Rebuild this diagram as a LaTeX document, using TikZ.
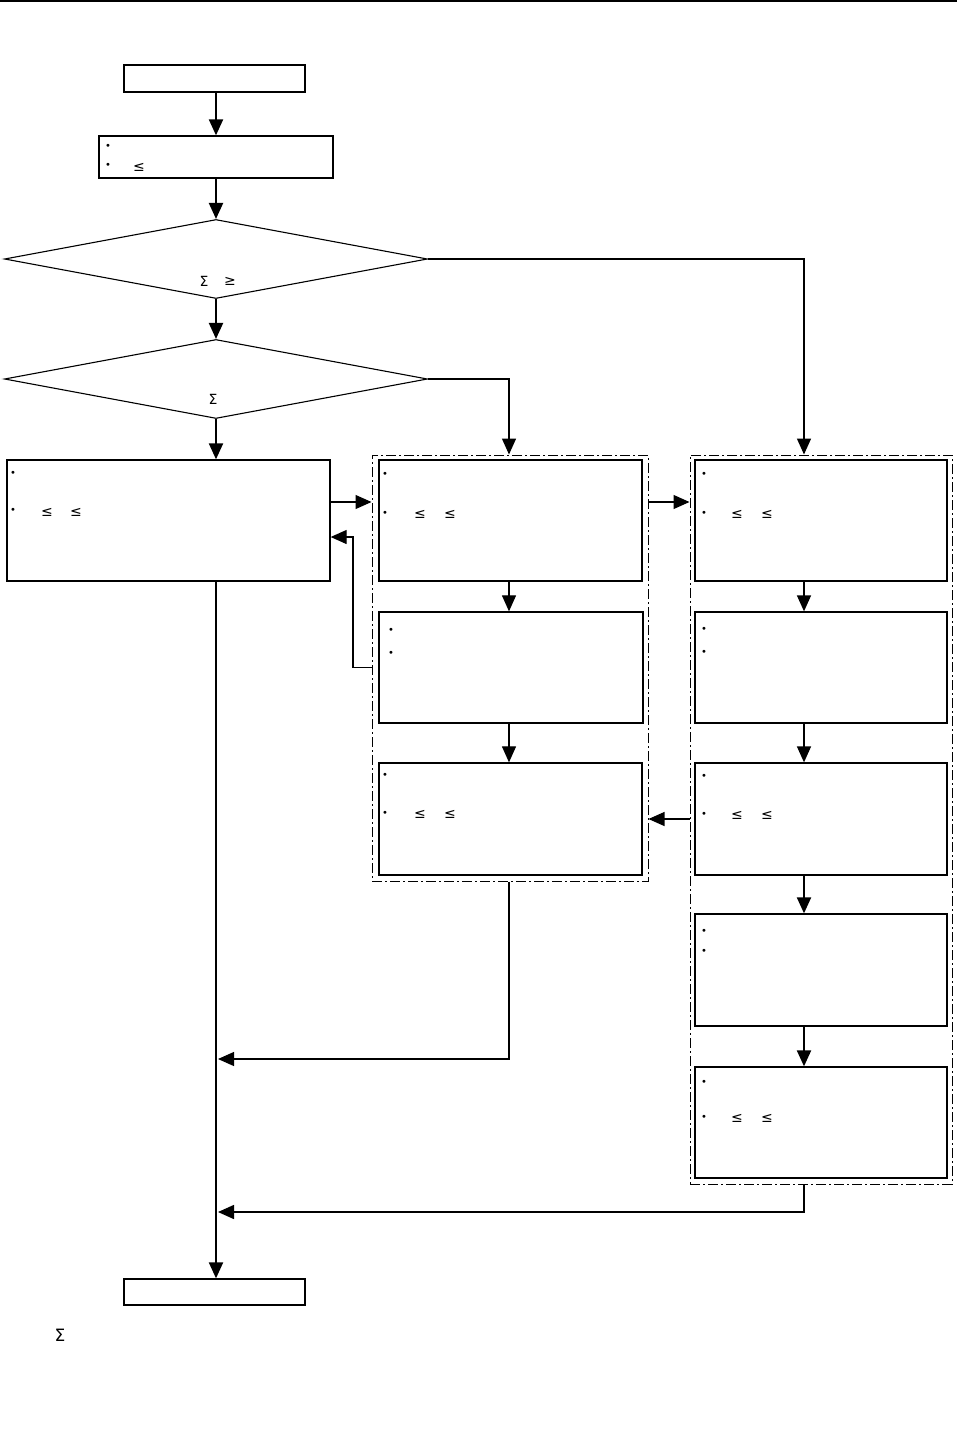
\documentclass[tikz,border=0pt]{standalone}
\usepackage{fontspec}
\setmainfont{DejaVu Sans}
\usetikzlibrary{arrows.meta,shapes.geometric,fit}
\begin{document}
\begin{tikzpicture}[x=0.5pt,y=-0.5pt,
  box/.style={draw, line width=0.65pt, inner sep=0pt, fit={#1}},
  frame/.style={draw, line width=0.5pt, inner sep=0pt, dash pattern=on 5pt off 1.5pt on 1pt off 1.5pt, fit={#1}},
  dia/.style={diamond, draw, line width=0.55pt, inner sep=0pt, minimum width=211.5pt, minimum height=39.5pt},
  sym/.style={inner sep=0pt, font=\fontsize{7}{8}\selectfont},
  bul/.style={inner sep=0pt, font=\fontsize{5}{5}\selectfont},
  thickar/.style={line width=1.05pt, -{Triangle[length=8pt,width=7pt]}},
  medar/.style={line width=0.75pt, -{Triangle[length=8pt,width=7pt]}},
  thinar/.style={line width=0.6pt, -{Triangle[length=8pt,width=7pt]}},
]
\useasboundingbox (0,0) rectangle (957,1456);
\draw[line width=1pt] (0,1) -- (957,1);

% column reference coordinates
\coordinate (tc) at (216,0);
\coordinate (mc) at (509,0);
\coordinate (rc) at (804,0);
\coordinate (y1) at (0,502);
\coordinate (fb) at (353,537);
\coordinate (j1) at (218,1059);
\coordinate (j2) at (218,1212);

% boxes
\node[box={(124,65) (305,92)}] (start) {};
\node[box={(99,136) (333,178)}] (b2) {};
\node[dia] (d1) at (216,259) {};
\node[dia] (d2) at (216,379) {};
\node[box={(7,460) (330,581)}] (bL) {};

\node[frame={(372,455) (648,881)}] (g1) {};
\node[box={(379,460) (642,581)}] (M1) {};
\node[box={(379,612) (643,723)}] (M2) {};
\node[box={(379,763) (642,875)}] (M3) {};

\node[frame={(690,455) (952,1184)}] (g2) {};
\node[box={(695,460) (947,581)}] (R1) {};
\node[box={(695,612) (947,723)}] (R2) {};
\node[box={(695,763) (947,875)}] (R3) {};
\node[box={(695,914) (947,1026)}] (R4) {};
\node[box={(695,1067) (947,1178)}] (R5) {};

\node[box={(124,1279) (305,1305)}] (end) {};

% symbols
\node[bul] (b2a) at (108,147) {•};
\node[bul] (b2b) at (108,166) {•};
\node[sym] (b2s) at (139,167) {≤};

\node[sym] (d1s) at (204,281) {Σ};
\node[sym] (d1g) at (230,281) {≥};
\node[sym] (d2s) at (213,399) {Σ};

\node[bul] (bLa) at (13,474) {•};
\node[bul] (bLb) at (13,511) {•};
\node[sym] (bLs1) at (47,512) {≤};
\node[sym] (bLs2) at (76,512) {≤};

\node[bul] (M1a) at (385,475) {•};
\node[bul] (M1b) at (385,514) {•};
\node[sym] (M1s1) at (420,514) {≤};
\node[sym] (M1s2) at (450,514) {≤};

\node[bul] (M2a) at (391,631) {•};
\node[bul] (M2b) at (391,654) {•};

\node[bul] (M3a) at (385,776) {•};
\node[bul] (M3b) at (385,814) {•};
\node[sym] (M3s1) at (420,814) {≤};
\node[sym] (M3s2) at (450,814) {≤};

\node[bul] (R1a) at (704,475) {•};
\node[bul] (R1b) at (704,514) {•};
\node[sym] (R1s1) at (737,514) {≤};
\node[sym] (R1s2) at (767,514) {≤};

\node[bul] (R2a) at (704,630) {•};
\node[bul] (R2b) at (704,653) {•};

\node[bul] (R3a) at (704,777) {•};
\node[bul] (R3b) at (704,815) {•};
\node[sym] (R3s1) at (737,815) {≤};
\node[sym] (R3s2) at (767,815) {≤};

\node[bul] (R4a) at (704,932) {•};
\node[bul] (R4b) at (704,952) {•};

\node[bul] (R5a) at (704,1083) {•};
\node[bul] (R5b) at (704,1118) {•};
\node[sym] (R5s1) at (737,1118) {≤};
\node[sym] (R5s2) at (767,1118) {≤};

\node[sym, font=\fontsize{8.5}{9}\selectfont] (foot) at (60,1335) {Σ};

% connectors
\draw[thickar] (start.south -| tc) -- (b2.north -| tc);
\draw[thickar] (b2.south -| tc) -- (d1.north);
\draw[thickar] (d1.south) -- (d2.north);
\draw[thickar] (d2.south) -- (bL.north -| tc);
\draw[thickar] (bL.south -| tc) -- (end.north -| tc);

\draw[medar] (d1.east) -| (g2.north -| rc);
\draw[medar] (d2.east) -| (g1.north -| mc);

\draw[thinar] (bL.east |- y1) -- (g1.west |- y1);
\draw[thinar] (g1.west |- M2.center) -| (fb) -- (bL.east |- fb);
\draw[thinar] (g1.east |- y1) -- (g2.west |- y1);
\draw[thinar] (g2.west |- R3.center) -- (g1.east |- R3.center);

\draw[thinar] (M1.south -| mc) -- (M2.north -| mc);
\draw[thinar] (M2.south -| mc) -- (M3.north -| mc);
\draw[thinar] (g1.south -| mc) |- (j1);

\draw[medar] (R1.south -| rc) -- (R2.north -| rc);
\draw[medar] (R2.south -| rc) -- (R3.north -| rc);
\draw[thickar] (R3.south -| rc) -- (R4.north -| rc);
\draw[thickar] (R4.south -| rc) -- (R5.north -| rc);
\draw[medar] (g2.south -| rc) |- (j2);
\end{tikzpicture}
\end{document}
